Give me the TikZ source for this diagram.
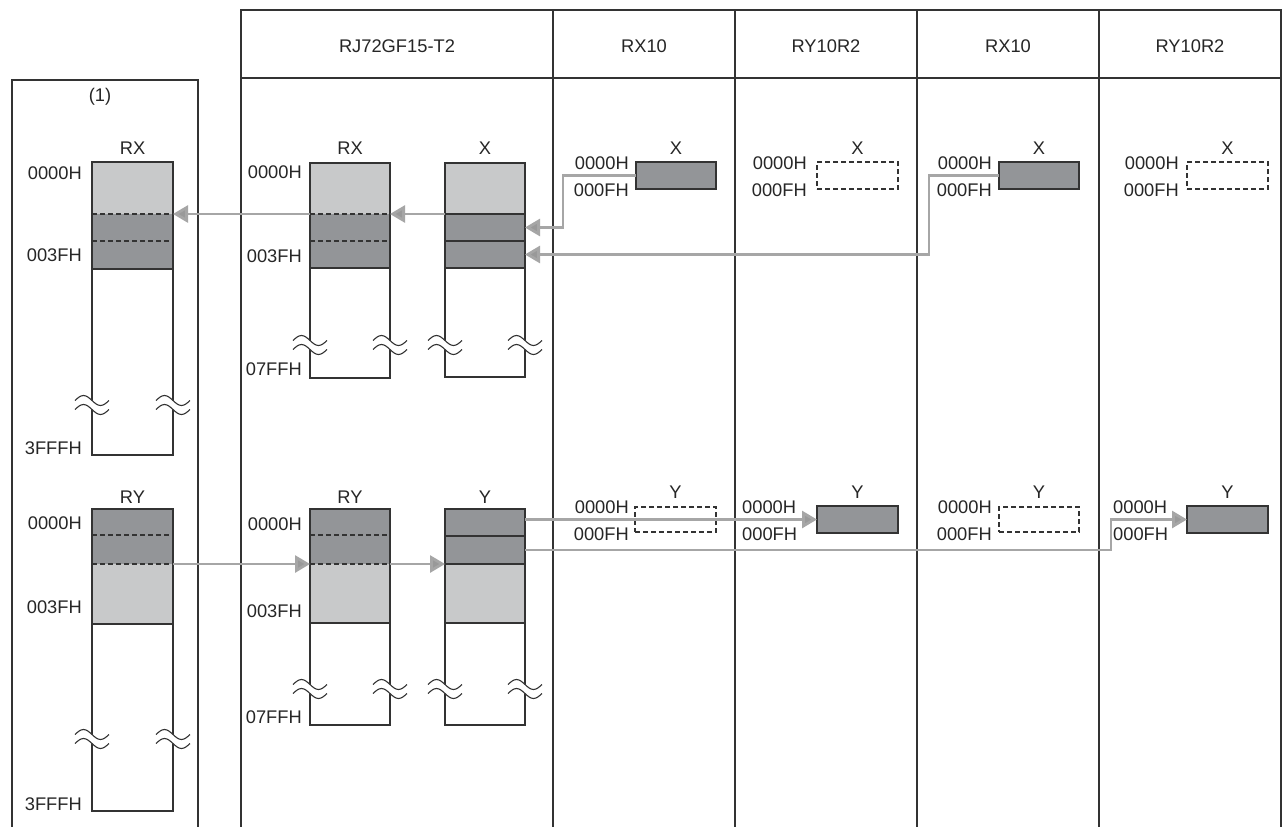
\documentclass[tikz,border=0pt]{standalone}
\usepackage{fontspec}
\setmainfont{Liberation Sans}
\usetikzlibrary{arrows.meta}
\definecolor{lightm}{HTML}{C8C9CA}
\definecolor{darkm}{HTML}{939598}
\definecolor{edge}{HTML}{333333}
\definecolor{connc}{HTML}{A6A6A6}
\definecolor{tipc}{HTML}{999999}
\newcommand\mseg[6]{\node[seg, fill=#6, minimum width=#4pt, minimum height=#5pt] (#1) at (#2,#3) {};}
\begin{document}
\begin{tikzpicture}[x=1pt, y=-1pt, font=\fontsize{18.3}{20}\selectfont,
  seg/.style={inner sep=0pt, outer sep=0pt, draw=none, anchor=north west},
  outl/.style={draw=edge, line width=1.3pt},
  dsh/.style={draw=edge, line width=1.3pt, dash pattern=on 5pt off 3pt},
  gridl/.style={draw=edge, line width=1.4pt},
  connl/.style={draw=connc, line width=2.8pt, -{Triangle[length=15pt,width=17pt,fill=tipc]}},
  lbl/.style={inner sep=0pt, text=black!85},
  sbox/.style={seg, fill=darkm, draw=edge, line width=1.3pt},
  dbox/.style={seg, draw=edge, line width=1.3pt, dash pattern=on 5pt off 3pt},
  brk/.pic={
    \fill[white] (-17,-4.5) sin (-8.5,-9.5) cos (0,-4.5) sin (8.5,0.5) cos (17,-4.5) -- (17,4.5) sin (8.5,9.5) cos (0,4.5) sin (-8.5,-0.5) cos (-17,4.5) -- cycle;
    \draw[edge, line width=1.1pt] (-17,-4.5) sin (-8.5,-9.5) cos (0,-4.5) sin (8.5,0.5) cos (17,-4.5);
    \draw[edge, line width=1.1pt] (-17,4.5) sin (-8.5,-0.5) cos (0,4.5) sin (8.5,9.5) cos (17,4.5);
  }]
\useasboundingbox (0,0) rectangle (1282,827);
\fill[white] (0,0) rectangle (1282,827);

% ---------- frames ----------
\draw[gridl] (12,828) -- (12,80) -- (198,80) -- (198,828);
\node[lbl] (p1) at (100,97) {(1)};
\draw[gridl] (241,828) -- (241,10) -- (1281,10) -- (1281,828);
\draw[gridl] (241,78) -- (1281,78);
\foreach \x in {553,735,917,1099} \draw[gridl] (\x,10) -- (\x,828);
\node[lbl] (h1) at (397,46) {RJ72GF15-T2};
\node[lbl] (h2) at (644,46) {RX10};
\node[lbl] (h3) at (826,46) {RY10R2};
\node[lbl] (h4) at (1008,46) {RX10};
\node[lbl] (h5) at (1190,46) {RY10R2};

% ---------- left panel RX ----------
\mseg{lrxA}{92}{162}{81}{52}{lightm}
\mseg{lrxB}{92}{214}{81}{27}{darkm}
\mseg{lrxC}{92}{241}{81}{28}{darkm}
\mseg{lrxD}{92}{269}{81}{186}{white}
\draw[outl] (lrxA.north west) rectangle (lrxD.south east);
\draw[dsh] (lrxB.north west) -- (lrxB.north east);
\draw[dsh] (lrxC.north west) -- (lrxC.north east);
\draw[outl] (lrxD.north west) -- (lrxD.north east);
\pic at (92,405) {brk}; \pic at (173,405) {brk};
\node[lbl] (tlrx) at (132.5,148) {RX};
\node[lbl, anchor=east] (a1) at (82,173) {0000H};
\node[lbl, anchor=east] (a2) at (82,255) {003FH};
\node[lbl, anchor=east] (a3) at (82,448) {3FFFH};

% ---------- left panel RY ----------
\mseg{lryA}{92}{509}{81}{26}{darkm}
\mseg{lryB}{92}{535}{81}{29}{darkm}
\mseg{lryC}{92}{564}{81}{60}{lightm}
\mseg{lryD}{92}{624}{81}{187}{white}
\draw[outl] (lryA.north west) rectangle (lryD.south east);
\draw[dsh] (lryB.north west) -- (lryB.north east);
\draw[dsh] (lryC.north west) -- (lryC.north east);
\draw[outl] (lryD.north west) -- (lryD.north east);
\pic at (92,739) {brk}; \pic at (173,739) {brk};
\node[lbl] (tlry) at (132.5,497) {RY};
\node[lbl, anchor=east] (a4) at (82,523) {0000H};
\node[lbl, anchor=east] (a5) at (82,607) {003FH};
\node[lbl, anchor=east] (a6) at (82,804) {3FFFH};

% ---------- RJ RX ----------
\mseg{rrxA}{310}{163}{80}{51}{lightm}
\mseg{rrxB}{310}{214}{80}{27}{darkm}
\mseg{rrxC}{310}{241}{80}{27}{darkm}
\mseg{rrxD}{310}{268}{80}{110}{white}
\draw[outl] (rrxA.north west) rectangle (rrxD.south east);
\draw[dsh] (rrxB.north west) -- (rrxB.north east);
\draw[dsh] (rrxC.north west) -- (rrxC.north east);
\draw[outl] (rrxD.north west) -- (rrxD.north east);
\pic at (310,345) {brk}; \pic at (390,345) {brk};
\node[lbl] (trrx) at (350,148) {RX};
\node[lbl, anchor=east] (a7) at (302,172) {0000H};
\node[lbl, anchor=east] (a8) at (302,256) {003FH};
\node[lbl, anchor=east] (a9) at (302,369) {07FFH};

% ---------- RJ X ----------
\mseg{rjxA}{445}{163}{80}{51}{lightm}
\mseg{rjxB}{445}{214}{80}{27}{darkm}
\mseg{rjxC}{445}{241}{80}{27}{darkm}
\mseg{rjxD}{445}{268}{80}{109}{white}
\draw[outl] (rjxA.north west) rectangle (rjxD.south east);
\draw[outl] (rjxB.north west) -- (rjxB.north east);
\draw[outl] (rjxC.north west) -- (rjxC.north east);
\draw[outl] (rjxD.north west) -- (rjxD.north east);
\pic at (445,345) {brk}; \pic at (525,345) {brk};
\node[lbl] (trjx) at (485,148) {X};

% ---------- RJ RY ----------
\mseg{rryA}{310}{509}{80}{26}{darkm}
\mseg{rryB}{310}{535}{80}{29}{darkm}
\mseg{rryC}{310}{564}{80}{59}{lightm}
\mseg{rryD}{310}{623}{80}{102}{white}
\draw[outl] (rryA.north west) rectangle (rryD.south east);
\draw[dsh] (rryB.north west) -- (rryB.north east);
\draw[dsh] (rryC.north west) -- (rryC.north east);
\draw[outl] (rryD.north west) -- (rryD.north east);
\pic at (310,689) {brk}; \pic at (390,689) {brk};
\node[lbl] (trry) at (350,497) {RY};
\node[lbl, anchor=east] (a10) at (302,524) {0000H};
\node[lbl, anchor=east] (a11) at (302,611) {003FH};
\node[lbl, anchor=east] (a12) at (302,717) {07FFH};

% ---------- RJ Y ----------
\mseg{rjyA}{445}{509}{80}{27}{darkm}
\mseg{rjyB}{445}{536}{80}{28}{darkm}
\mseg{rjyC}{445}{564}{80}{59}{lightm}
\mseg{rjyD}{445}{623}{80}{102}{white}
\draw[outl] (rjyA.north west) rectangle (rjyD.south east);
\draw[outl] (rjyB.north west) -- (rjyB.north east);
\draw[outl] (rjyC.north west) -- (rjyC.north east);
\draw[outl] (rjyD.north west) -- (rjyD.north east);
\pic at (445,689) {brk}; \pic at (525,689) {brk};
\node[lbl] (trjy) at (485,497) {Y};

% ---------- slave X boxes ----------
\node[sbox, minimum width=80pt, minimum height=27pt] (boxA) at (636,162) {};
\node[dbox, minimum width=81pt, minimum height=27pt] (boxB) at (817,162) {};
\node[sbox, minimum width=80pt, minimum height=27pt] (boxC) at (999,162) {};
\node[dbox, minimum width=81pt, minimum height=27pt] (boxH) at (1187,162) {};
\node[lbl] (xA) at (boxA.north |- 0,148) {X};
\node[lbl] (xB) at (boxB.north |- 0,148) {X};
\node[lbl] (xC) at (boxC.north |- 0,148) {X};
\node[lbl] (xH) at (boxH.north |- 0,148) {X};
\node[lbl, anchor=east] (c1) at (629,163) {0000H};
\node[lbl, anchor=east] (c2) at (629,190) {000FH};
\node[lbl, anchor=east] (c3) at (807,163) {0000H};
\node[lbl, anchor=east] (c4) at (807,190) {000FH};
\node[lbl, anchor=east] (c5) at (992,163) {0000H};
\node[lbl, anchor=east] (c6) at (992,190) {000FH};
\node[lbl, anchor=east] (c7) at (1179,163) {0000H};
\node[lbl, anchor=east] (c8) at (1179,190) {000FH};

% ---------- slave Y boxes ----------
\node[dbox, minimum width=81pt, minimum height=25pt] (boxE) at (635,507) {};
\node[sbox, minimum width=81pt, minimum height=27pt] (boxD) at (817,506) {};
\node[dbox, minimum width=80pt, minimum height=25pt] (boxG) at (999,507) {};
\node[sbox, minimum width=81pt, minimum height=27pt] (boxF) at (1187,506) {};
\node[lbl] (yE) at (boxE.north |- 0,492) {Y};
\node[lbl] (yD) at (boxD.north |- 0,492) {Y};
\node[lbl] (yG) at (boxG.north |- 0,492) {Y};
\node[lbl] (yF) at (boxF.north |- 0,492) {Y};
\node[lbl, anchor=east] (d1) at (629,507) {0000H};
\node[lbl, anchor=east] (d2) at (629,534) {000FH};
\node[lbl, anchor=west] (d3) at (742,507) {0000H};
\node[lbl, anchor=west] (d4) at (742,534) {000FH};
\node[lbl, anchor=east] (d5) at (992,507) {0000H};
\node[lbl, anchor=east] (d6) at (992,534) {000FH};
\node[lbl, anchor=west] (d7) at (1113,507) {0000H};
\node[lbl, anchor=west] (d8) at (1113,534) {000FH};

% ---------- connectors ----------
\coordinate (b1) at (563,0);
\coordinate (b2) at (929,0);
\coordinate (b3) at (1111,0);
\draw[connl] (boxA.west) -- (boxA.west -| b1) |- (rjxB.east);
\draw[connl] (boxC.west) -- (boxC.west -| b2) |- (rjxC.east);
\draw[connl] (rjxB.north west) -- (rrxB.north east);
\draw[connl] (rrxB.north west) -- (lrxB.north east);
\draw[connl] (lryB.south east) -- (rryB.south west);
\draw[connl] (rryB.south east) -- (rjyB.south west);
\draw[connl] (rjyA.east |- boxD.west) -- (boxD.west);
\draw[connl] (rjyB.east) -- (rjyB.east -| b3) |- (boxF.west);
\end{tikzpicture}
\end{document}
